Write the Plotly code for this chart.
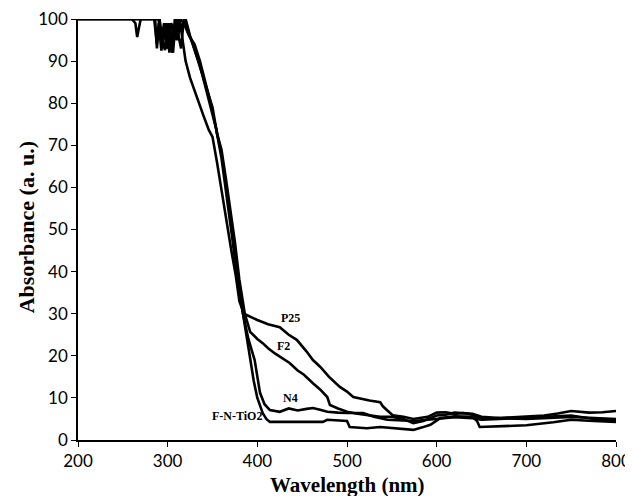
import plotly.graph_objects as go

# ---- data ----
p25_wl = [200, 230, 260, 264, 266, 268, 270, 280, 286, 288, 290, 293, 296, 299, 302, 305, 308, 311, 314, 316,
          320, 325, 330, 336, 340, 346, 350, 355, 361, 366, 371, 376, 380, 385, 390, 400, 412, 425, 435, 444,
          455, 462, 470, 480, 492, 500, 507, 515, 525, 537, 540, 545, 551, 563, 574, 590, 600, 610, 620, 630,
          640, 650, 665, 680, 700, 720, 735, 750, 770, 785, 800]
p25_ab = [100, 100, 100, 99, 95.7, 98, 100, 100, 100, 93, 99, 92.5, 98, 93, 99, 92, 100, 95, 99, 96,
          90, 86, 83, 79, 77, 73.6, 72, 66, 58, 51, 45, 39, 33, 30, 29.5, 28.5, 27.5, 26.8, 25, 23.8,
          21, 19, 17.4, 15, 12.6, 11.5, 10.2, 9.8, 9.4, 9.0, 8.0, 7.0, 5.9, 5.5, 5.0, 5.5, 6.5, 6.6, 6.2, 6.4,
          6.0, 5.0, 5.2, 5.3, 5.5, 5.8, 6.3, 6.9, 6.5, 6.6, 6.9]

f2_wl = [200, 260, 285, 288, 291, 294, 297, 300, 303, 306, 309, 312, 315, 318, 322, 325, 328, 334, 340, 345,
         350, 355, 360, 365, 370, 375, 380, 386, 392, 400, 406, 412, 420, 428, 436, 445, 452, 462, 470, 478,
         481, 490, 500, 510, 522, 537, 551, 563, 574, 585, 600, 610, 620, 630, 640, 650, 670, 700, 720, 750,
         770, 800]
f2_ab = [100, 100, 100, 94, 100, 95, 92.6, 99, 94, 92, 100, 96, 93, 100, 97, 95.7, 94, 90, 86, 82.4,
         79, 72.8, 69, 62, 55, 47, 38, 30, 25.7, 24, 23, 21.8, 20.5, 19.5, 18.3, 16.5, 15.5, 13.5, 12, 10.2,
         8.3, 7.5, 6.7, 6.3, 5.9, 5.5, 5.5, 5.0, 4.0, 4.5, 5.8, 6.0, 6.5, 6.3, 6.2, 5.5, 5.2, 5.0, 5.2, 5.5,
         5.3, 5.0]

n4_wl = [200, 290, 293, 296, 300, 304, 308, 312, 316, 320, 325, 330, 336, 342, 348, 354, 360, 366, 372, 378,
         384, 390, 397, 403, 408, 414, 420, 425, 435, 445, 455, 462, 470, 478, 490, 500, 518, 530, 545, 560,
         574, 590, 600, 620, 640, 650, 670, 700, 720, 750, 775, 800]
n4_ab = [100, 100, 95, 99, 93, 99, 96, 100, 98, 100, 96, 93, 89, 84, 79, 74, 67, 58, 48, 38,
         30, 24, 19, 11.2, 8.5, 7.1, 6.8, 6.7, 7.5, 7.0, 7.4, 7.6, 7.2, 6.7, 6.5, 6.4, 6.4, 5.5, 4.8, 4.6,
         4.5, 4.8, 5.0, 5.4, 5.2, 4.8, 5.0, 5.3, 5.5, 5.8, 5.0, 4.5]

fn_wl = [200, 290, 294, 298, 302, 306, 310, 314, 318, 324, 330, 336, 342, 348, 354, 360, 366, 372, 378, 384,
         390, 396, 400, 406, 410, 414, 430, 450, 473, 478, 490, 500, 503, 522, 537, 555, 574, 584, 593, 604,
         620, 640, 645, 648, 670, 700, 730, 750, 775, 800]
fn_ab = [100, 100, 94, 99, 92, 98, 95, 100, 99, 96, 94, 90, 85, 80, 74, 68, 59, 49, 39, 30,
         22, 14, 10, 6.4, 5.0, 4.3, 4.3, 4.3, 4.3, 4.8, 4.6, 4.5, 3.1, 2.8, 3.1, 2.8, 2.4, 3.0, 3.6, 5.2,
         5.6, 5.5, 4.5, 3.1, 3.2, 3.5, 4.2, 4.8, 4.5, 4.3]

series = [("P25", p25_wl, p25_ab), ("F2", f2_wl, f2_ab), ("N4", n4_wl, n4_ab), ("F-N-TiO2", fn_wl, fn_ab)]

# label positions (wavelength, absorbance)
label_text = ["P25", "F2", "N4", "F-N-TiO2"]
label_x = [437, 429, 437, 377]
label_y = [29.0, 22.3, 10.0, 5.6]

x_ticks = [200, 300, 400, 500, 600, 700, 800]
y_ticks = [0, 10, 20, 30, 40, 50, 60, 70, 80, 90, 100]

fig = go.Figure()
for name, wl, ab in series:
    fig.add_trace(go.Scatter(x=wl, y=ab, mode="lines", name=name,
                             line=dict(color="black", width=2.6), showlegend=False))

for t, x, y in zip(label_text, label_x, label_y):
    fig.add_annotation(x=x, y=y, text="<b>" + t + "</b>", showarrow=False,
                       font=dict(family="Liberation Serif", size=12, color="black"))

fig.add_annotation(xref="paper", yref="paper", x=0.5, y=-0.107, text="<b>Wavelength (nm)</b>",
                   showarrow=False, xanchor="center", yanchor="middle",
                   font=dict(family="Liberation Serif", size=21, color="black"))
fig.add_annotation(xref="paper", yref="paper", x=-0.0967, y=0.505, text="<b>Absorbance (a. u.)</b>",
                   showarrow=False, textangle=-90, xanchor="center", yanchor="middle",
                   font=dict(family="Liberation Serif", size=22, color="black"))

# the page body adds an 8px margin, so the figure is sized to fit the window exactly
fig.update_layout(
    width=625, height=488,
    margin=dict(l=70, r=17, t=11, b=56, autoexpand=False),
    paper_bgcolor="white", plot_bgcolor="white",
    xaxis=dict(range=[200, 800], tickvals=x_ticks, ticks="outside", ticklen=5, tickwidth=1,
               tickcolor="black", showline=True, linecolor="black", linewidth=1.5,
               showgrid=False, zeroline=False, automargin=False, ticklabeloverflow="allow",
               tickfont=dict(family="Lato", size=17, color="black")),
    yaxis=dict(range=[0, 100], tickvals=y_ticks, ticks="outside", ticklen=5, tickwidth=1,
               tickcolor="black", showline=True, linecolor="black", linewidth=1.5,
               showgrid=False, zeroline=False, automargin=False, ticklabeloverflow="allow",
               tickfont=dict(family="Lato", size=17, color="black")),
)

fig.write_html("out.html")
